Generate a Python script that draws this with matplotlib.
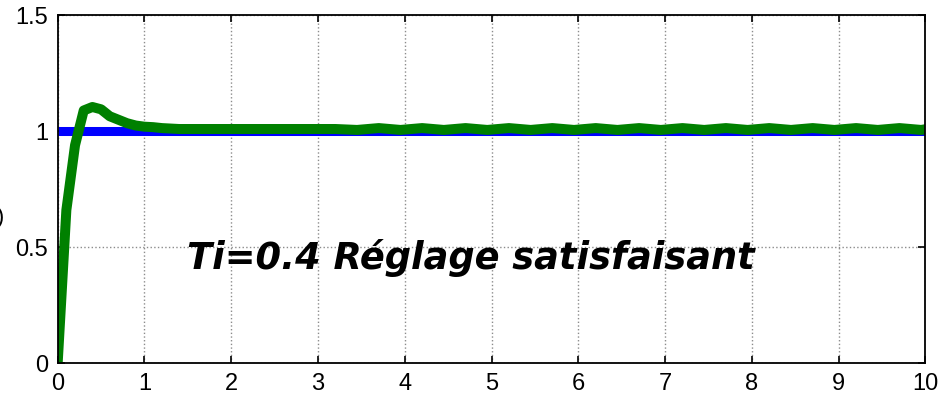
import matplotlib.pyplot as plt
import numpy as np

# consigne (échelon unité) et réponse du système
t_ref = [0, 10]
y_ref = [1, 1]

t_rep = [0, 0.1, 0.2, 0.3, 0.4, 0.5, 0.6, 0.7, 0.8, 0.9, 1.0, 1.1, 1.2, 1.4, 1.6,
         3.2, 3.45, 3.7, 3.95, 4.2, 4.45, 4.7, 4.95, 5.2, 5.45, 5.7, 5.95, 6.2,
         6.45, 6.7, 6.95, 7.2, 7.45, 7.7, 7.95, 8.2, 8.45, 8.7, 8.95, 9.2, 9.45,
         9.7, 9.95, 10.0]
y_rep = [0, 0.66, 0.94, 1.09, 1.105, 1.095, 1.065, 1.05, 1.035, 1.025, 1.02, 1.018, 1.014, 1.01, 1.01,
         1.01, 1.006, 1.014, 1.006, 1.014, 1.006, 1.014, 1.006, 1.014, 1.006, 1.014, 1.006, 1.014,
         1.006, 1.014, 1.006, 1.014, 1.006, 1.014, 1.006, 1.014, 1.006, 1.014, 1.006, 1.014, 1.006,
         1.014, 1.006, 1.009]

xticks = [0, 1, 2, 3, 4, 5, 6, 7, 8, 9, 10]
yticks = [0, 0.5, 1, 1.5]

plt.rcParams['font.family'] = ['Liberation Sans', 'DejaVu Sans']

fig = plt.figure(figsize=(9.44, 3.99), dpi=100)
ax = fig.add_axes([0.0611, 0.0902, 0.9193, 0.871])

ax.plot(t_ref, y_ref, color='#0000ff', linewidth=6.5, solid_capstyle='butt')
ax.plot(t_rep, y_rep, color='#008000', linewidth=7.2, solid_joinstyle='round')

ax.set_xlim(0, 10)
ax.set_ylim(0, 1.5)
ax.set_xticks(xticks)
ax.set_yticks(yticks)
ax.set_xticklabels([str(v) for v in xticks])
ax.set_yticklabels(['0', '0.5', '1', '1.5'])
ax.tick_params(direction='in', length=5, width=1.2, top=True, right=True,
               labelsize=17, pad=7, colors='black')
ax.grid(True, linestyle=':', color='#8c8c8c', linewidth=1)
for s in ax.spines.values():
    s.set_linewidth(1.3)
    s.set_color('black')

ax.text(4.76, 0.455, 'Ti=0.4 Réglage satisfaisant', fontsize=26.5, fontweight='bold',
        fontstyle='italic', family='DejaVu Sans', ha='center', va='center')

# étiquette de l'axe y, coupée au bord gauche
fig.text(0.005, 0.455, 'y(t)', fontsize=16, ha='right', va='center')

plt.savefig('out.png', dpi=100)
